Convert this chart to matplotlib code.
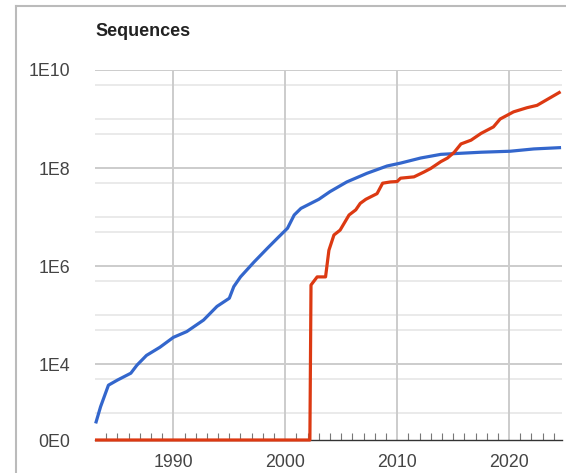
import numpy as np
import matplotlib
matplotlib.use("Agg")
import matplotlib.pyplot as plt
from matplotlib.lines import Line2D

plt.rcParams['font.family'] = ['Liberation Sans', 'DejaVu Sans']

# blue series
blue_years = [1983.1, 1983.5, 1984.2, 1985.0, 1986.2, 1986.75, 1987.6, 1988.8, 1990.0, 1991.2,
              1992.7, 1993.9, 1995.0, 1995.4, 1996.0, 1997.2, 1998.4, 1999.3, 2000.2, 2000.8,
              2001.4, 2003.0, 2004.0, 2005.5, 2007.3, 2009.1, 2010.3, 2012.1, 2013.9, 2015.7,
              2017.5, 2020.1, 2022.2, 2024.5]
blue_vals = [6.6e2, 1.35e3, 3.7e3, 4.7e3, 6.5e3, 9.5e3, 1.5e4, 2.2e4, 3.5e4, 4.6e4,
             7.9e4, 1.5e5, 2.2e5, 3.8e5, 6.0e5, 1.2e6, 2.3e6, 3.7e6, 5.9e6, 1.1e7,
             1.5e7, 2.3e7, 3.3e7, 5.2e7, 7.8e7, 1.1e8, 1.26e8, 1.6e8, 1.9e8, 2.0e8,
             2.1e8, 2.2e8, 2.45e8, 2.6e8]

# red series, zero until 2002
red_years = [1983.0, 2002.2, 2002.3, 2002.85, 2003.6, 2003.9, 2004.35, 2004.9, 2005.7, 2006.3,
             2006.7, 2007.2, 2008.2, 2008.7, 2009.4, 2010.0, 2010.3, 2011.5, 2012.4, 2013.0,
             2013.9, 2014.5, 2015.1, 2015.7, 2016.6, 2017.5, 2018.6, 2019.2, 2020.4, 2021.6,
             2022.5, 2023.4, 2024.6]
red_vals = [0, 0, 4.1e5, 6.0e5, 6.0e5, 2.1e6, 4.3e6, 5.4e6, 1.1e7, 1.4e7,
            1.9e7, 2.3e7, 3.0e7, 4.9e7, 5.2e7, 5.3e7, 6.2e7, 6.6e7, 8.3e7, 9.8e7,
            1.35e8, 1.6e8, 2.1e8, 3.1e8, 3.7e8, 5.1e8, 6.9e8, 1.0e9, 1.4e9, 1.7e9,
            1.9e9, 2.5e9, 3.6e9]

y_major = [1e4, 1e6, 1e8, 1e10]
y_major_labels = ['1E4', '1E6', '1E8', '1E10']
y_minor = [5e9, 1e9, 5e8, 5e7, 1e7, 5e6, 5e5, 1e5, 5e4, 5e3, 1e3]
x_major = [1990, 2000, 2010, 2020]
y_bottom = 10 ** 2.45

fig = plt.figure(figsize=(5.66, 4.73), dpi=100)
ax = fig.add_axes([95 / 566, 1 - 440 / 473, (561.7 - 95) / 566, (440 - 70) / 473])
ax.set_yscale('log')
ax.set_xlim(1983.0, 2024.7)
ax.set_ylim(y_bottom, 1e10)

# gridlines
for v in y_minor:
    ax.axhline(v, color='#e8e8e8', lw=1.3, zorder=0)
for v in y_major:
    ax.axhline(v, color='#cccccc', lw=1.4, zorder=0)
for x in x_major:
    ax.axvline(x, color='#cccccc', lw=1.4, zorder=0)

red_plot = np.maximum(np.array(red_vals, dtype=float), y_bottom)
ax.plot(blue_years, blue_vals, color='#3366cc', lw=2.3, zorder=3, clip_on=False)
ax.plot(red_years, red_plot, color='#dc3912', lw=2.3, zorder=4, clip_on=False,
        solid_capstyle='butt')

for s in ['left', 'top', 'right']:
    ax.spines[s].set_visible(False)
ax.spines['bottom'].set_color('#333333')
ax.spines['bottom'].set_linewidth(1.0)

ax.set_yticks([y_bottom] + y_major)
ax.set_yticklabels(['0E0'] + y_major_labels)
ax.yaxis.set_minor_locator(matplotlib.ticker.NullLocator())
ax.tick_params(axis='y', length=0, pad=18, labelsize=12.8, labelcolor='#444444')

ax.set_xticks(x_major)
ax.set_xticklabels([str(x) for x in x_major])
ax.set_xticks(np.arange(1984, 2025), minor=True)
ax.tick_params(axis='x', which='major', length=0, pad=10, labelsize=12.8, labelcolor='#444444')
ax.tick_params(axis='x', which='minor', direction='in', length=5, width=0.8, color='#777777')

fig.text(95 / 566, 1 - 31 / 473, 'Sequences', fontsize=13, fontweight='bold',
         color='#222222', ha='left', va='center')

# outer frame
fig.add_artist(Line2D([16 / 566, 16 / 566], [0, 1 - 6 / 473], transform=fig.transFigure,
                      color='#bbbbbb', lw=1.5))
fig.add_artist(Line2D([16 / 566, 1], [1 - 6 / 473, 1 - 6 / 473], transform=fig.transFigure,
                      color='#bbbbbb', lw=1.5))

fig.savefig('out.png', dpi=100)
